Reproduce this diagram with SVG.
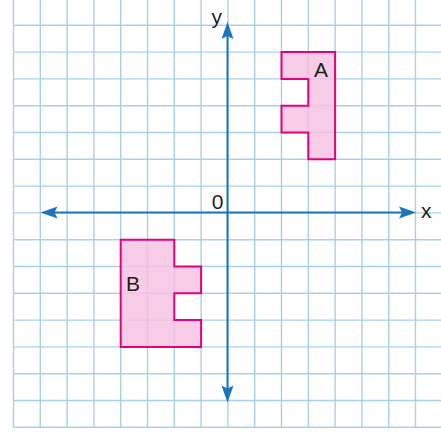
<svg xmlns="http://www.w3.org/2000/svg" width="441" height="432" viewBox="0 0 441 432">
<style>
.grid line{stroke:#a9cfe6;stroke-width:1.4}
.shape{fill:#f6bfe0;fill-opacity:0.8;stroke:#e6007e;stroke-width:2;stroke-linejoin:miter}
.axis{stroke:#1a75bc;stroke-width:2}
.head{fill:#1a75bc}
text{font-family:"Liberation Sans",Arial,sans-serif;font-size:21px;fill:#231f20}
</style>
<rect width="441" height="432" fill="#ffffff"/>
<g class="grid" id="grid">
<line x1="13.5" y1="0" x2="13.5" y2="428"/>
<line x1="40.3" y1="0" x2="40.3" y2="428"/>
<line x1="67.1" y1="0" x2="67.1" y2="428"/>
<line x1="93.9" y1="0" x2="93.9" y2="428"/>
<line x1="120.7" y1="0" x2="120.7" y2="428"/>
<line x1="147.5" y1="0" x2="147.5" y2="428"/>
<line x1="174.3" y1="0" x2="174.3" y2="428"/>
<line x1="201.1" y1="0" x2="201.1" y2="428"/>
<line x1="227.9" y1="0" x2="227.9" y2="428"/>
<line x1="254.7" y1="0" x2="254.7" y2="428"/>
<line x1="281.5" y1="0" x2="281.5" y2="428"/>
<line x1="308.3" y1="0" x2="308.3" y2="428"/>
<line x1="335.1" y1="0" x2="335.1" y2="428"/>
<line x1="361.9" y1="0" x2="361.9" y2="428"/>
<line x1="388.7" y1="0" x2="388.7" y2="428"/>
<line x1="415.5" y1="0" x2="415.5" y2="428"/>
<line x1="13.5" y1="25.3" x2="441" y2="25.3"/>
<line x1="13.5" y1="52.1" x2="441" y2="52.1"/>
<line x1="13.5" y1="78.9" x2="441" y2="78.9"/>
<line x1="13.5" y1="105.7" x2="441" y2="105.7"/>
<line x1="13.5" y1="132.5" x2="441" y2="132.5"/>
<line x1="13.5" y1="159.3" x2="441" y2="159.3"/>
<line x1="13.5" y1="186.1" x2="441" y2="186.1"/>
<line x1="13.5" y1="212.9" x2="441" y2="212.9"/>
<line x1="13.5" y1="239.7" x2="441" y2="239.7"/>
<line x1="13.5" y1="266.5" x2="441" y2="266.5"/>
<line x1="13.5" y1="293.3" x2="441" y2="293.3"/>
<line x1="13.5" y1="320.1" x2="441" y2="320.1"/>
<line x1="13.5" y1="346.9" x2="441" y2="346.9"/>
<line x1="13.5" y1="373.7" x2="441" y2="373.7"/>
<line x1="13.5" y1="400.5" x2="441" y2="400.5"/>
<line x1="13.5" y1="427.3" x2="441" y2="427.3"/>
</g>
<g id="shapeA">
<polygon class="shape" points="281.5,52.1 335.1,52.1 335.1,159.3 308.3,159.3 308.3,132.5 281.5,132.5 281.5,105.7 308.3,105.7 308.3,78.9 281.5,78.9"/>
<text x="314" y="77">A</text>
</g>
<g id="shapeB">
<polygon class="shape" points="120.7,239.7 174.3,239.7 174.3,266.5 201.1,266.5 201.1,293.3 174.3,293.3 174.3,320.1 201.1,320.1 201.1,346.9 120.7,346.9"/>
<text x="126" y="291">B</text>
</g>
<g id="axes">
<line class="axis" x1="44" y1="212.5" x2="410" y2="212.5"/>
<line class="axis" x1="227.5" y1="28" x2="227.5" y2="396"/>
<polygon class="head" points="416,212.5 399,206.5 402,212.5 399,218.5"/>
<polygon class="head" points="40.5,212.5 57.5,206.5 54.5,212.5 57.5,218.5"/>
<polygon class="head" points="227.5,22 221.5,39 227.5,36 233.5,39"/>
<polygon class="head" points="227.5,402.5 221.5,385.5 227.5,388.5 233.5,385.5"/>
</g>
<g id="labels">
<text x="421" y="218">x</text>
<text x="211.5" y="24">y</text>
<text x="223.5" y="209" text-anchor="end">0</text>
</g>
</svg>
